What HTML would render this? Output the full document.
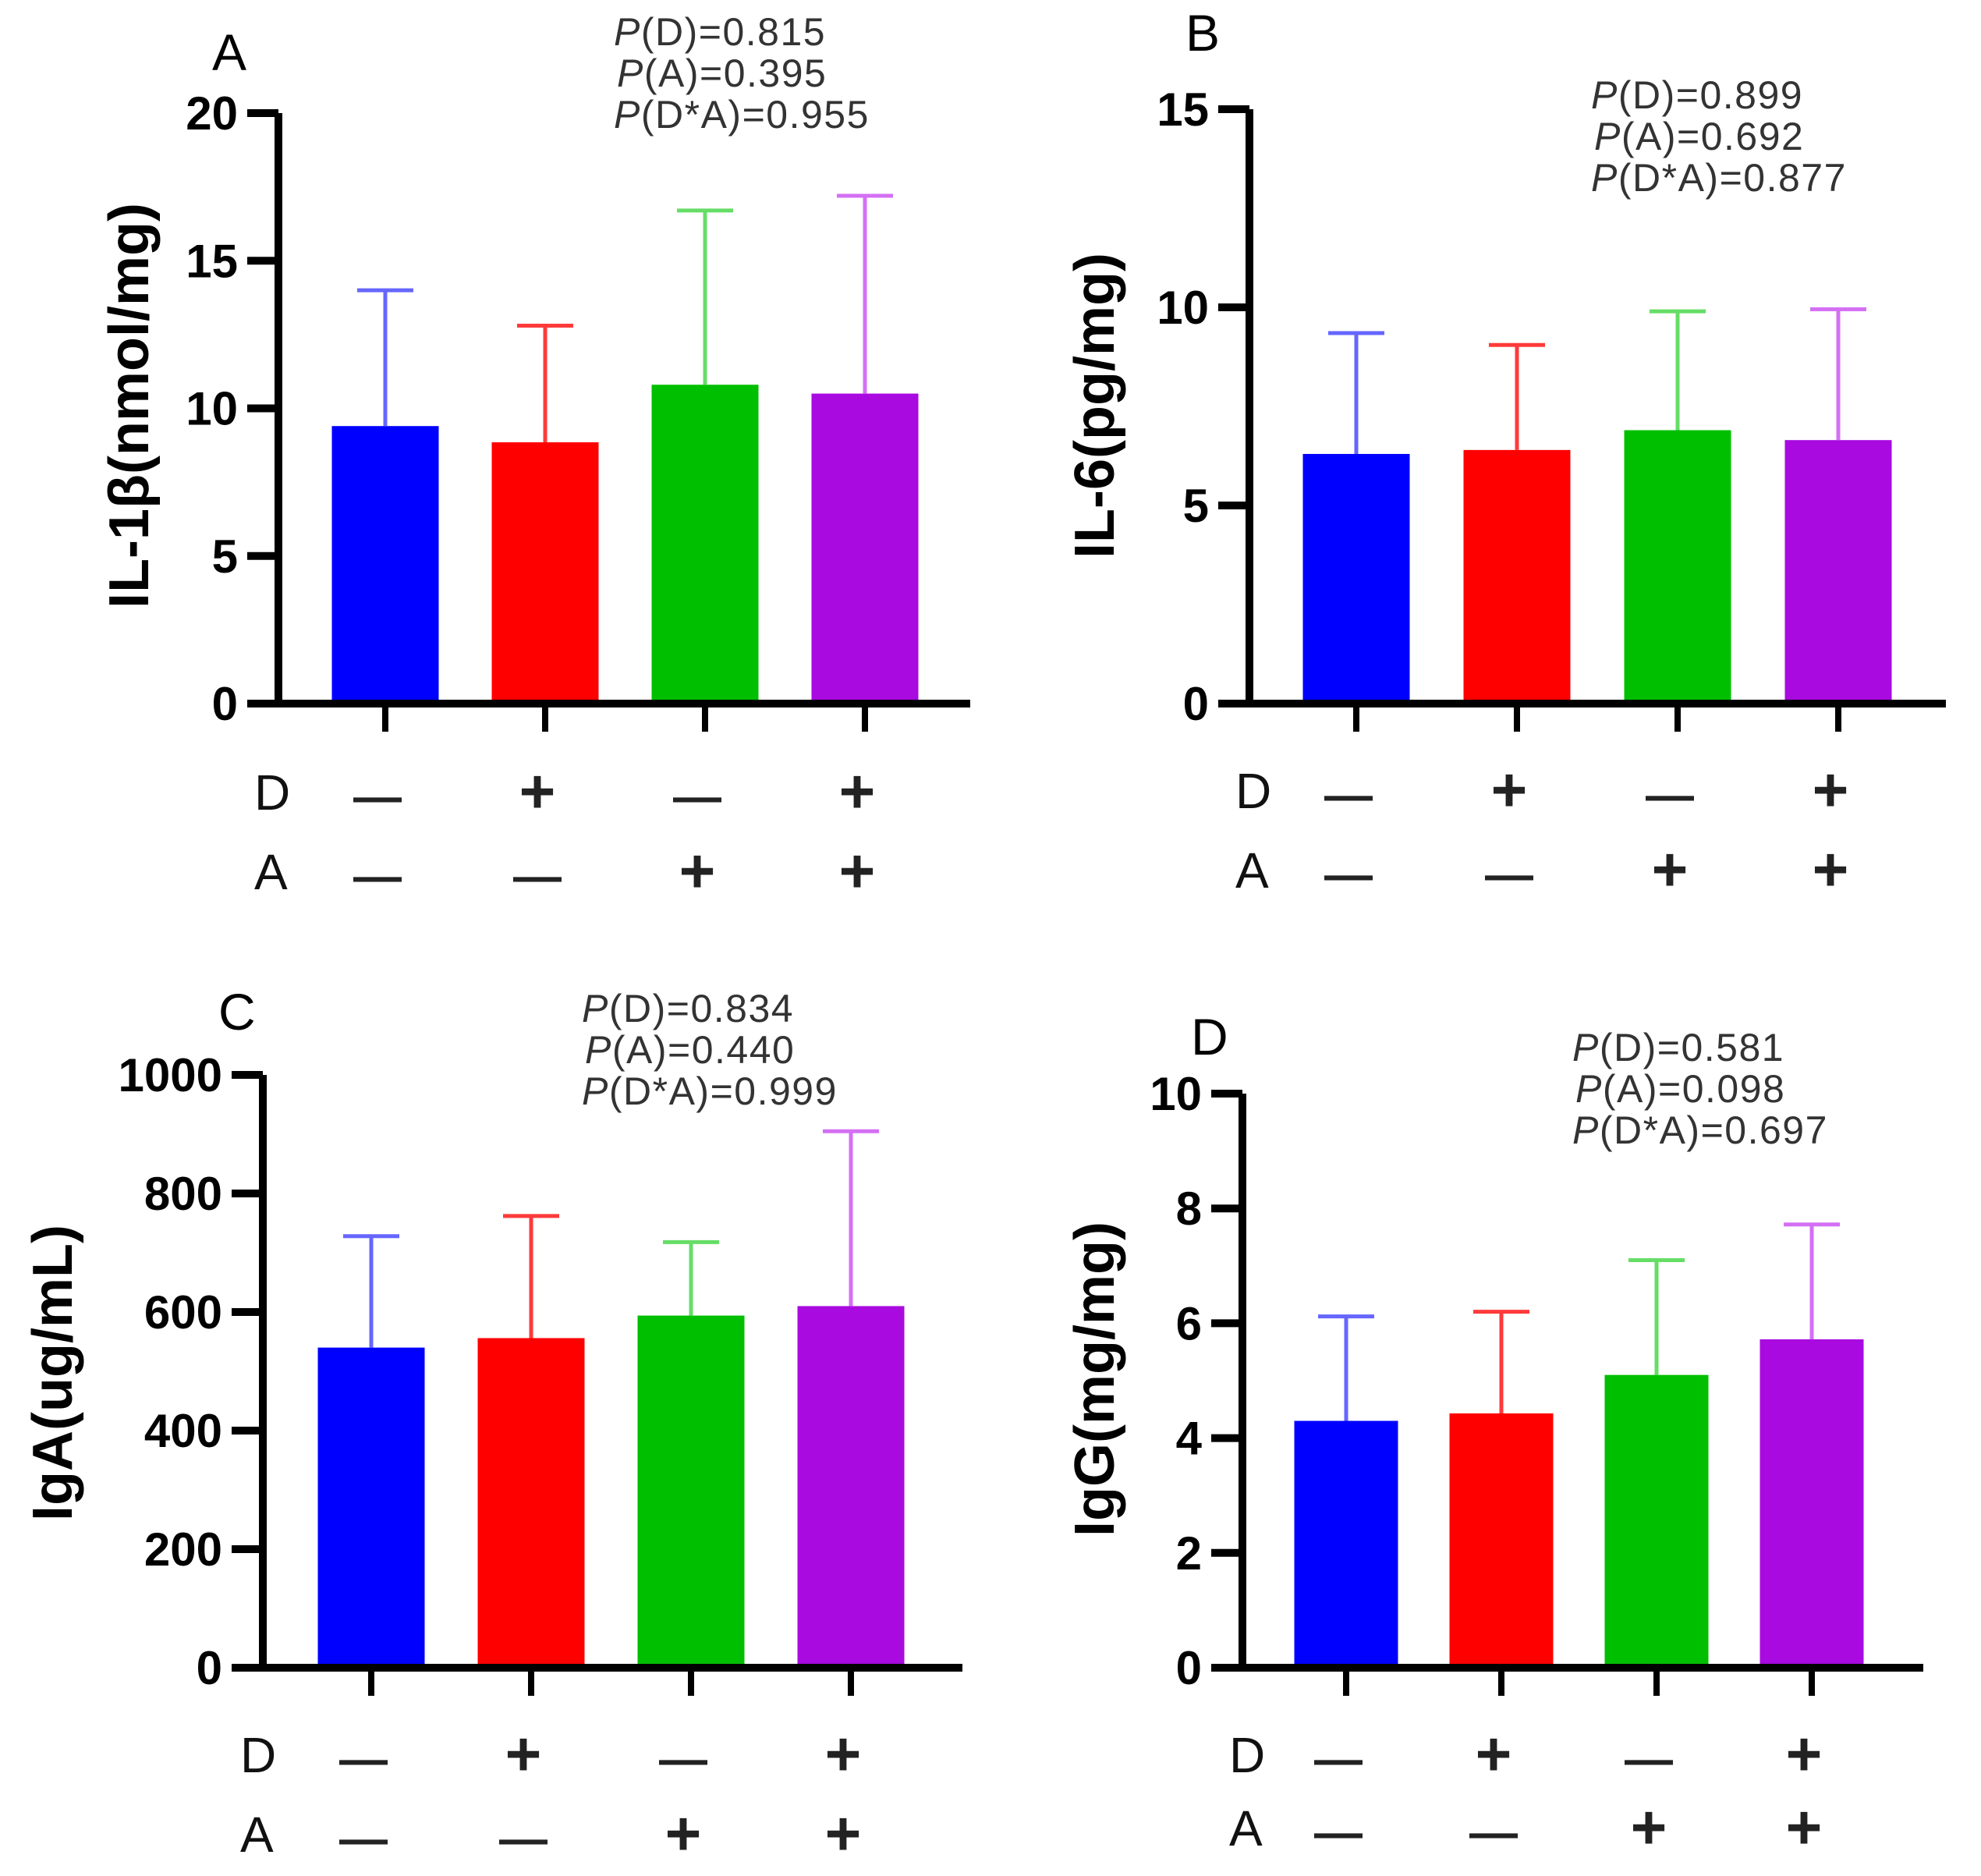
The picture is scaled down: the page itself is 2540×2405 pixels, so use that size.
<!DOCTYPE html>
<html><head><meta charset="utf-8"><style>
body{margin:0;background:#fff}
svg{display:block}
text{font-family:"Liberation Sans",Arial,sans-serif}
</style></head><body>
<svg id="fig" width="2540" height="2405" viewBox="0 0 2540 2405" xmlns="http://www.w3.org/2000/svg"></svg>
<script>
const groups = ["D-A-", "D+A-", "D-A+", "D+A+"];
const dSigns = ["—", "+", "—", "+"];
const aSigns = ["—", "—", "+", "+"];
const il1bMeans = [9.4, 8.85, 10.8, 10.5];
const il1bUpper = [14.0, 12.8, 16.7, 17.2];
const il1bTicks = [0, 5, 10, 15, 20];
const il6Means = [6.3, 6.4, 6.9, 6.65];
const il6Upper = [9.35, 9.05, 9.9, 9.95];
const il6Ticks = [0, 5, 10, 15];
const igaMeans = [540, 556, 594, 610];
const igaUpper = [728, 762, 718, 905];
const igaTicks = [0, 200, 400, 600, 800, 1000];
const iggMeans = [4.3, 4.43, 5.1, 5.72];
const iggUpper = [6.12, 6.2, 7.1, 7.72];
const iggTicks = [0, 2, 4, 6, 8, 10];
const pA = ["=0.815", "=0.395", "=0.955"];
const pB = ["=0.899", "=0.692", "=0.877"];
const pC = ["=0.834", "=0.440", "=0.999"];
const pD = ["=0.581", "=0.098", "=0.697"];
const pLabels = ["(D)", "(A)", "(D*A)"];

const fills = ["#0000ff", "#ff0000", "#00bf00", "#a80ae0"];
const errCols = ["#6666ff", "#ff3a3a", "#66dd66", "#d470f4"];
const NS = "http://www.w3.org/2000/svg";
const svg = document.getElementById("fig");
function el(tag, attrs, parent, txt) {
  const e = document.createElementNS(NS, tag);
  for (const k in attrs) e.setAttribute(k, attrs[k]);
  if (txt !== undefined) e.textContent = txt;
  (parent || svg).appendChild(e);
  return e;
}
function sign(g, s, cx, row, name) {
  const plus = s === "+";
  const t = el("text", {x: cx - 10, y: row + 4, "font-size": plus ? 80 : 62, "font-weight": "bold", fill: "#222", "text-anchor": "middle"}, g, s);
  
  
}
function panel(cfg) {
  const g = el("g", {});
  
  
  const max = cfg.ticks[cfg.ticks.length - 1];
  const y = v => cfg.y0 - (v / max) * (cfg.y0 - cfg.yTop);
  const x = i => cfg.c0 + i * cfg.step;
  cfg.means.forEach((m, i) => {
    const bar = el("rect", {x: x(i) - cfg.bw / 2, y: y(m), width: cfg.bw, height: cfg.y0 - y(m), fill: fills[i]}, g);
    
    
    const eb = el("path", {d: `M${x(i)} ${y(m)} V${y(cfg.upper[i])} M${x(i) - 36} ${y(cfg.upper[i])} H${x(i) + 36}`, stroke: errCols[i], "stroke-width": 5, fill: "none"}, g);
    
    
    const tk = el("line", {x1: x(i), x2: x(i), y1: cfg.y0, y2: cfg.y0 + 36, stroke: "#000", "stroke-width": 8}, g);
    
    
    sign(g, dSigns[i], x(i), cfg.dRow, 'd-sign');
    sign(g, aSigns[i], x(i), cfg.aRow, 'a-sign');
  });
  const ax = el("path", {d: `M${cfg.ax} ${cfg.yTop} V${cfg.y0} M${cfg.ax - 40} ${cfg.y0} H${cfg.xEnd}`, stroke: "#000", "stroke-width": 10, fill: "none"}, g);
  
  
  cfg.ticks.forEach(t => {
    const l = el("line", {x1: cfg.ax - 40, x2: cfg.ax, y1: y(t), y2: y(t), stroke: "#000", "stroke-width": 10}, g);
    
    
    const tl = el("text", {x: cfg.ax - 52, y: y(t) + 21, "font-size": 60, "font-weight": "bold", "text-anchor": "end"}, g, String(t));
    
    
  });
  const yt = el("text", {x: 0, y: 0, "font-size": 72, "font-weight": "bold", "text-anchor": "middle", transform: `translate(${cfg.titleX},${cfg.titleY}) rotate(-90)`}, g, cfg.title);
  
  
  const pl = el("text", {x: cfg.lx, y: cfg.ly, "font-size": 66}, g, cfg.letter);
  
  
  const dl = el("text", {x: cfg.rowX, y: cfg.dRow, "font-size": 64, fill: "#111"}, g, "D");
  
  
  const al = el("text", {x: cfg.rowX, y: cfg.aRow, "font-size": 64, fill: "#111"}, g, "A");
  
  
  cfg.p.forEach((v, i) => {
    const t = el("text", {x: cfg.px + (i === 1 ? 4 : 0), y: cfg.py + i * 53, "font-size": 50, "letter-spacing": 1.5, fill: "#333"}, g);
    
    
    el("tspan", {"font-style": "italic"}, t, "P");
    el("tspan", {}, t, pLabels[i] + v);
  });
}
panel({letter:"A", title:"IL-1β(nmol/mg)", means:il1bMeans, upper:il1bUpper, ticks:il1bTicks,
  ax:357, yTop:145, y0:902, xEnd:1244, c0:494, step:205, bw:137, dRow:1038, aRow:1140, rowX:326,
  titleX:190, titleY:520, lx:272, ly:90, px:787, py:58, p:pA});
panel({letter:"B", title:"IL-6(pg/mg)", means:il6Means, upper:il6Upper, ticks:il6Ticks,
  ax:1602, yTop:140, y0:902, xEnd:2495, c0:1739, step:206, bw:137, dRow:1036, aRow:1138, rowX:1584,
  titleX:1428, titleY:520, lx:1520, ly:65, px:2040, py:139, p:pB});
panel({letter:"C", title:"IgA(ug/mL)", means:igaMeans, upper:igaUpper, ticks:igaTicks,
  ax:337, yTop:1378, y0:2138, xEnd:1234, c0:476, step:205, bw:137, dRow:2272, aRow:2374, rowX:308,
  titleX:92, titleY:1760, lx:280, ly:1320, px:746, py:1310, p:pC});
panel({letter:"D", title:"IgG(mg/mg)", means:iggMeans, upper:iggUpper, ticks:iggTicks,
  ax:1593, yTop:1402, y0:2138, xEnd:2466, c0:1726, step:199, bw:133, dRow:2272, aRow:2366, rowX:1576,
  titleX:1428, titleY:1768, lx:1527, ly:1352, px:2016, py:1360, p:pD});
</script>
</body></html>
